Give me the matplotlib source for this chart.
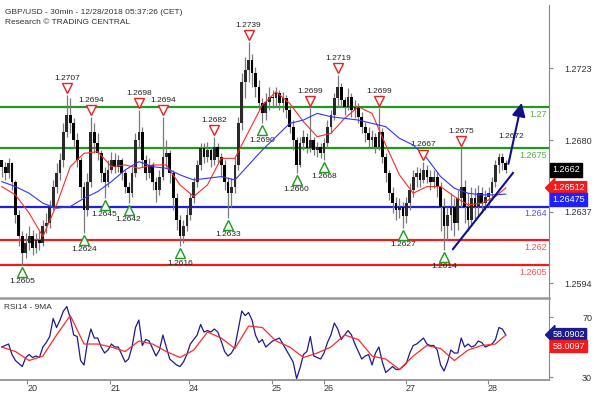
import matplotlib
matplotlib.use("Agg")
import matplotlib.pyplot as plt
import matplotlib.transforms as mtransforms
import numpy as np

plt.rcParams['font.family'] = ['Liberation Sans', 'DejaVu Sans']

# hourly GBP/USD bars (bar index 0 = Dec 19 evening)
first_open = 1.2668
close = [
    1.2664, 1.2660, 1.2666, 1.2655, 1.2635, 1.2622, 1.2612, 1.2618, 1.2622, 1.2615,
    1.2620, 1.2618, 1.2628, 1.2630, 1.2640, 1.2652, 1.2660, 1.2668, 1.2685, 1.2695,
    1.2690, 1.2680, 1.2668, 1.2652, 1.2638, 1.2655, 1.2685, 1.2678, 1.2672, 1.2660,
    1.2655, 1.2662, 1.2668, 1.2664, 1.2668, 1.2660, 1.2652, 1.2648, 1.2660, 1.2680,
    1.2685, 1.2668, 1.2660, 1.2665, 1.2655, 1.2650, 1.2658, 1.2670, 1.2672, 1.2660,
    1.2645, 1.2632, 1.2622, 1.2628, 1.2635, 1.2645, 1.2655, 1.2665, 1.2675, 1.2670,
    1.2674, 1.2668, 1.2676, 1.2670, 1.2665, 1.2655, 1.2648, 1.2652, 1.2665, 1.2690,
    1.2715, 1.2722, 1.2728, 1.2720, 1.2712, 1.2702, 1.2696, 1.2703, 1.2706, 1.2705,
    1.2708, 1.2702, 1.2705, 1.2698, 1.2688, 1.2680, 1.2665, 1.2678, 1.2682, 1.2675,
    1.2680, 1.2674, 1.2676, 1.2672, 1.2678, 1.2688, 1.2695, 1.2705, 1.2712, 1.2704,
    1.2700, 1.2706, 1.2698, 1.2700, 1.2694, 1.2688, 1.2684, 1.2680, 1.2682, 1.2676,
    1.2685, 1.2670, 1.2660, 1.2648, 1.2642, 1.2638, 1.2640, 1.2634, 1.2642, 1.2650,
    1.2658, 1.2660, 1.2656, 1.2662, 1.2658, 1.2655, 1.2658, 1.2652, 1.2640, 1.2628,
    1.2635, 1.2640, 1.2630, 1.2645, 1.2652, 1.2640, 1.2632, 1.2645, 1.2640, 1.2648,
    1.2642, 1.2646, 1.2648, 1.2655, 1.2665, 1.2670, 1.2666, 1.2662]
high = [
    1.2668, 1.2667, 1.2669, 1.2667, 1.2656, 1.2638, 1.2625, 1.2624, 1.2628, 1.2626,
    1.2624, 1.2625, 1.2632, 1.2636, 1.2644, 1.2656, 1.2666, 1.2672, 1.2690, 1.2707,
    1.2705, 1.2693, 1.2684, 1.2670, 1.2655, 1.2660, 1.2694, 1.2690, 1.2684, 1.2674,
    1.2664, 1.2668, 1.2673, 1.2672, 1.2671, 1.2669, 1.2662, 1.2655, 1.2664, 1.2684,
    1.2698, 1.2688, 1.2671, 1.2669, 1.2667, 1.2658, 1.2662, 1.2694, 1.2680, 1.2674,
    1.2662, 1.2648, 1.2635, 1.2632, 1.2640, 1.2648, 1.2658, 1.2668, 1.2678, 1.2678,
    1.2679, 1.2676, 1.2682, 1.2678, 1.2672, 1.2668, 1.2658, 1.2657, 1.2670, 1.2694,
    1.2720, 1.2730, 1.2739, 1.2732, 1.2724, 1.2716, 1.2705, 1.2708, 1.2712, 1.2710,
    1.2712, 1.2710, 1.2709, 1.2707, 1.2700, 1.2692, 1.2682, 1.2682, 1.2686, 1.2684,
    1.2699, 1.2682, 1.2679, 1.2678, 1.2681, 1.2692, 1.2698, 1.2708, 1.2719, 1.2714,
    1.2706, 1.2711, 1.2708, 1.2704, 1.2702, 1.2697, 1.2691, 1.2688, 1.2686, 1.2684,
    1.2699, 1.2687, 1.2672, 1.2662, 1.2652, 1.2646, 1.2645, 1.2643, 1.2646, 1.2654,
    1.2662, 1.2664, 1.2663, 1.2667, 1.2665, 1.2662, 1.2662, 1.2661, 1.2655, 1.2645,
    1.2640, 1.2648, 1.2645, 1.2650, 1.2675, 1.2656, 1.2648, 1.2652, 1.2651, 1.2653,
    1.2652, 1.2650, 1.2652, 1.2658, 1.2668, 1.2672, 1.2672, 1.2668]
low = [
    1.2658, 1.2656, 1.2657, 1.2650, 1.2630, 1.2616, 1.2605, 1.2609, 1.2614, 1.2611,
    1.2612, 1.2614, 1.2616, 1.2624, 1.2627, 1.2638, 1.2648, 1.2656, 1.2664, 1.2682,
    1.2684, 1.2675, 1.2664, 1.2645, 1.2624, 1.2634, 1.2652, 1.2672, 1.2668, 1.2655,
    1.2645, 1.2652, 1.2660, 1.2660, 1.2661, 1.2656, 1.2648, 1.2642, 1.2646, 1.2658,
    1.2676, 1.2664, 1.2656, 1.2657, 1.2650, 1.2643, 1.2647, 1.2656, 1.2664, 1.2654,
    1.2638, 1.2626, 1.2616, 1.2618, 1.2625, 1.2632, 1.2642, 1.2652, 1.2662, 1.2666,
    1.2667, 1.2664, 1.2665, 1.2666, 1.2658, 1.2650, 1.2633, 1.2640, 1.2648, 1.2662,
    1.2686, 1.2705, 1.2715, 1.2712, 1.2706, 1.2698, 1.2690, 1.2692, 1.2698, 1.2699,
    1.2700, 1.2698, 1.2697, 1.2693, 1.2684, 1.2674, 1.2660, 1.2664, 1.2674, 1.2672,
    1.2673, 1.2671, 1.2670, 1.2669, 1.2668, 1.2675, 1.2684, 1.2692, 1.2700, 1.2700,
    1.2695, 1.2698, 1.2694, 1.2693, 1.2690, 1.2684, 1.2679, 1.2676, 1.2676, 1.2672,
    1.2674, 1.2666, 1.2655, 1.2644, 1.2636, 1.2632, 1.2633, 1.2627, 1.2630, 1.2638,
    1.2646, 1.2652, 1.2652, 1.2654, 1.2654, 1.2650, 1.2651, 1.2646, 1.2625, 1.2614,
    1.2620, 1.2626, 1.2622, 1.2626, 1.2640, 1.2630, 1.2625, 1.2628, 1.2632, 1.2634,
    1.2636, 1.2638, 1.2640, 1.2644, 1.2652, 1.2660, 1.2662, 1.2660]

# moving averages, read every 4 bars plus the last bar
ma_idx = list(range(0, 148, 4)) + [147]
ma_fast = [
    1.2652, 1.2647, 1.2636, 1.2622, 1.2641, 1.2664, 1.2672, 1.2673, 1.2664, 1.2665,
    1.2663, 1.2665, 1.2665, 1.2653, 1.2646, 1.2653, 1.2669, 1.2669, 1.2685, 1.2701,
    1.2709, 1.2702, 1.2691, 1.2682, 1.2684, 1.2693, 1.2700, 1.2696, 1.2677, 1.2659,
    1.2648, 1.2652, 1.2652, 1.2646, 1.2641, 1.2642, 1.2646, 1.26512]
ma_slow = [
    1.2655, 1.2652, 1.2648, 1.2642, 1.2639, 1.2640, 1.2645, 1.2649, 1.2655, 1.2662,
    1.2667, 1.2664, 1.2663, 1.2659, 1.2656, 1.2657, 1.2658, 1.2656, 1.2665, 1.2674,
    1.2682, 1.2690, 1.2692, 1.2696, 1.2694, 1.2693, 1.2692, 1.2690, 1.2688, 1.2681,
    1.2677, 1.2669, 1.2658, 1.2651, 1.2648, 1.2647, 1.2647, 1.26475]

rsi = [
    50, 51, 52, 45, 41, 39, 37, 43, 45, 43, 44, 43, 50, 53, 57, 69, 63, 68, 74, 77,
    69, 58, 57, 41, 38, 53, 62, 56, 56, 50, 46, 48, 52, 50, 50, 45, 40, 42, 50, 63,
    68, 51, 55, 54, 49, 44, 48, 58, 50, 42, 40, 38, 37, 40, 45, 52, 55, 58, 65, 60,
    61, 60, 62, 60, 54, 47, 44, 46, 50, 62, 74, 71, 73, 68, 58, 53, 55, 50, 52, 54,
    55, 56, 52, 48, 44, 40, 29, 36, 45, 47, 57, 44, 43, 42, 46, 53, 58, 66, 62, 55,
    58, 61, 58, 52, 47, 42, 44, 45, 38, 46, 50, 40, 33, 35, 37, 35, 35, 37, 39, 46,
    51, 52, 54, 56, 52, 51, 51, 48, 38, 34, 40, 48, 46, 46, 56, 50, 52, 50, 51, 54,
    53, 50, 51, 52, 55, 63, 62, 58.0902]
rsi_ma = [
    50, 47, 41, 44, 58, 71, 52, 52, 50, 47, 54, 52, 47, 43, 48, 60, 56, 49, 64, 63,
    54, 50, 43, 46, 50, 58, 55, 44, 42, 35, 44, 51, 49, 41, 48, 51, 52, 58.0097]

day_labels = ['20', '21', '24', '25', '26', '27', '28']
day_start = [7.4, 31.6, 54.6, 78.8, 94.0, 117.9, 141.8]

resistance = [1.27, 1.2675]
pivot = [1.264]
support = [1.262, 1.2605]

peak_idx = [19, 26, 40, 47, 62, 72, 90, 98, 110, 123, 134]
peak_val = [1.2707, 1.2694, 1.2698, 1.2694, 1.2682, 1.2739, 1.2699, 1.2719, 1.2699, 1.2667, 1.2675]
trough_idx = [6, 24, 30, 37, 52, 66, 76, 86, 94, 117, 129]
trough_val = [1.2605, 1.2624, 1.2645, 1.2642, 1.2616, 1.2633, 1.2690, 1.2660, 1.2668, 1.2627, 1.2614]

trend_x = [131.6, 149.1]
trend_y = [1.26144, 1.26602]
arrow_from = (147.6, 1.2664)
arrow_to = (151.8, 1.2704)

last_price = 1.2662

fig = plt.figure(figsize=(5.94, 3.98), dpi=100)
ax = fig.add_axes([0.0, 0.2513, 0.9242, 0.7362])
ax2 = fig.add_axes([0.0, 0.0452, 0.9242, 0.2061], sharex=ax)

c = np.array(close)
h = np.array(high)
l = np.array(low)
o = np.r_[first_open, c[:-1]]
x = np.arange(len(c))

for y in resistance:
    ax.axhline(y, color='#1e9a1e', lw=1.6, zorder=1)
for y in pivot:
    ax.axhline(y, color='#1f1fe0', lw=1.6, zorder=1)
for y in support:
    ax.axhline(y, color='#f01c1c', lw=1.6, zorder=1)

ax.vlines(x, l, h, color='#7a7a7a', lw=0.9, zorder=2)
up = c >= o
body = np.maximum(np.abs(c - o), 0.00005)
ax.bar(x[up], body[up], bottom=o[up], width=0.8, color='#2a2a2a', zorder=3)
ax.bar(x[~up], body[~up], bottom=c[~up], width=0.8, color='black', zorder=3)

ax.plot(ma_idx, ma_fast, color='#ff2a2a', lw=0.8, zorder=4)
ax.plot(ma_idx, ma_slow, color='#3333ff', lw=0.8, zorder=4)

tri_hi = mtransforms.offset_copy(ax.transData, fig=fig, y=5, units='points')
lab_hi = mtransforms.offset_copy(ax.transData, fig=fig, y=12, units='points')
tri_lo = mtransforms.offset_copy(ax.transData, fig=fig, y=-5, units='points')
lab_lo = mtransforms.offset_copy(ax.transData, fig=fig, y=-12, units='points')
for i, v in zip(peak_idx, peak_val):
    ax.plot(i, v, marker='v', ms=6.5, mfc='white', mec='#e82020', mew=1, transform=tri_hi, zorder=5)
    ax.text(i, v, f'{v:.4f}', transform=lab_hi, ha='center', va='center', fontsize=6, color='#222222')
for i, v in zip(trough_idx, trough_val):
    ax.plot(i, v, marker='^', ms=6.5, mfc='white', mec='#1e9a1e', mew=1, transform=tri_lo, zorder=5)
    ax.text(i, v, f'{v:.4f}', transform=lab_lo, ha='center', va='center', fontsize=6, color='#222222')
ax.text(148.5, 1.2672, '1.2672', transform=lab_hi, ha='center', va='center', fontsize=6, color='#222222')

ax.plot(trend_x, trend_y, color='#10108a', lw=1.5, zorder=6)
ax.annotate('', xy=arrow_to, xytext=arrow_from,
            arrowprops=dict(arrowstyle='-|>,head_length=0.8,head_width=0.4', color='#10108a', lw=1.5),
            zorder=6)

blend = mtransforms.blended_transform_factory(ax.transAxes, ax.transData)
below = mtransforms.offset_copy(blend, fig=fig, y=-2, units='points')
for y in resistance:
    ax.text(0.997, y, f'{y:g}', transform=below, ha='right', va='top', fontsize=6.5, color='#55b040')
for y in pivot:
    ax.text(0.997, y, f'{y:g}', transform=below, ha='right', va='top', fontsize=6.5, color='#5050ff')
for y in support:
    ax.text(0.997, y, f'{y:g}', transform=below, ha='right', va='top', fontsize=6.5, color='#ff5050')

ax.set_xlim(-0.5, 159.6)
ax.set_ylim(1.2585, 1.27612)
ax.set_yticks([1.2594, 1.2637, 1.2680, 1.2723])
ax.set_yticklabels(['1.2594', '1.2637', '1.2680', '1.2723'])
ax.yaxis.tick_right()
ax.tick_params(axis='y', length=3, color='#888888', labelsize=6.5, labelcolor='#333333', pad=28)
for t in ax.get_yticklabels():
    t.set_horizontalalignment('right')
ax.tick_params(axis='x', bottom=False, labelbottom=False)
for s in ['top', 'left', 'bottom']:
    ax.spines[s].set_visible(False)
ax.spines['right'].set_color('#888888')

ax.text(1.006, last_price, '1.2662', transform=blend, ha='left', va='center', fontsize=6.5,
        color='white', bbox=dict(boxstyle='square,pad=0.25', fc='black', ec='black'), zorder=7)
ax.text(1.006, ma_fast[-1], f'{ma_fast[-1]:.5f}', transform=blend, ha='left', va='center', fontsize=6.5,
        color='white', bbox=dict(boxstyle='larrow,pad=0.2', fc='#f01c1c', ec='#f01c1c'), zorder=7)
slow_tr = mtransforms.offset_copy(blend, fig=fig, y=-4, units='points')
ax.text(1.006, ma_slow[-1], f'{ma_slow[-1]:.5f}', transform=slow_tr, ha='left', va='center', fontsize=6.5,
        color='white', bbox=dict(boxstyle='square,pad=0.2', fc='#1f1fff', ec='#1f1fff'), zorder=7)
for t in ax.texts[-3:]:
    t.set_clip_on(False)

# RSI panel
ax2.plot(x, rsi, color='#1c1c8c', lw=0.9)
ax2.plot(ma_idx, rsi_ma, color='#ff2a2a', lw=0.9)
ax2.set_ylim(28.0, 82.7)
ax2.set_yticks([30, 50, 70])
ax2.set_yticklabels(['30', '', '70'])
ax2.yaxis.tick_right()
ax2.tick_params(axis='y', length=3, color='#888888', labelsize=6.5, labelcolor='#333333', pad=28)
for t in ax2.get_yticklabels():
    t.set_horizontalalignment('right')
ax2.set_xticks(day_start)
ax2.set_xticklabels(day_labels)
ax2.tick_params(axis='x', length=3, color='#888888', labelsize=6.5, labelcolor='#333333', pad=0)
for t in ax2.get_xticklabels():
    t.set_horizontalalignment('left')
ax2.spines['left'].set_visible(False)
ax2.spines['top'].set_color('#999999')
ax2.spines['top'].set_linewidth(1.8)
ax2.spines['bottom'].set_color('#999999')
ax2.spines['bottom'].set_linewidth(1.4)
ax2.spines['right'].set_color('#888888')
ax2.text(0.008, 0.93, 'RSI14 - 9MA', transform=ax2.transAxes, ha='left', va='top', fontsize=6, color='#333333')

blend2 = mtransforms.blended_transform_factory(ax2.transAxes, ax2.transData)
ax2.text(1.006, rsi[-1], f'{rsi[-1]:.4f}', transform=blend2, ha='left', va='center', fontsize=6.5,
         color='white', bbox=dict(boxstyle='larrow,pad=0.2', fc='#1c1c8c', ec='#1c1c8c'), clip_on=False)
rsi_tr = mtransforms.offset_copy(blend2, fig=fig, y=-8, units='points')
ax2.text(1.006, rsi_ma[-1], f'{rsi_ma[-1]:.4f}', transform=rsi_tr, ha='left', va='center', fontsize=6.5,
         color='white', bbox=dict(boxstyle='square,pad=0.2', fc='#f01c1c', ec='#f01c1c'), clip_on=False)

fig.text(5 / 594, 1 - 12 / 398, 'GBP/USD - 30min - 12/28/2018 05:37:26 (CET)', ha='left', va='center',
         fontsize=6, color='#333333')
fig.text(5 / 594, 1 - 23 / 398, 'Research \u00a9 TRADING CENTRAL', ha='left', va='center',
         fontsize=6, color='#333333')

fig.savefig('out.png', dpi=100)
